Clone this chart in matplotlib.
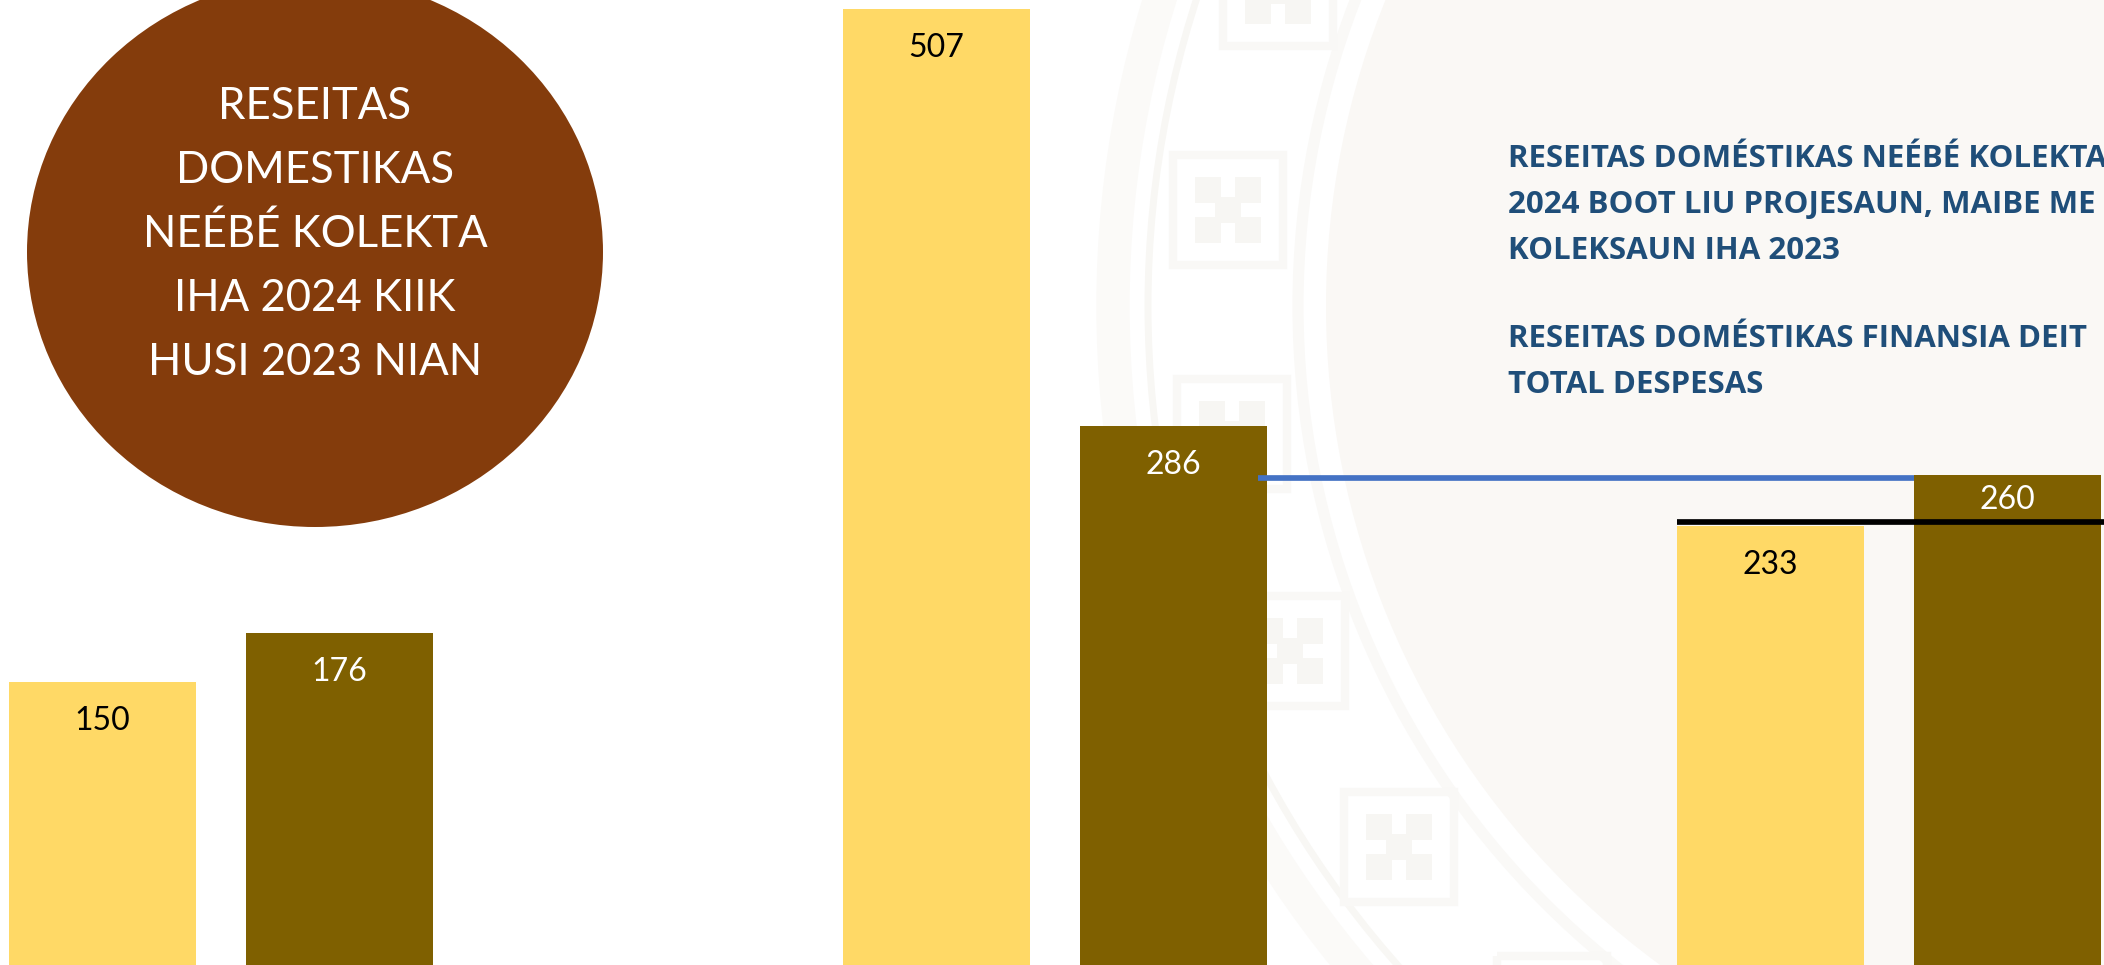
import numpy as np
import matplotlib.pyplot as plt
from matplotlib.patches import Ellipse, Circle, Rectangle

# bar values (three pairs of bars)
light_vals = [150, 507, 233]
dark_vals = [176, 286, 260]
dark_label_pad = [-28, -28, -18]

# reference lines drawn across the right pair
blue_level = 258.5
black_level = 235

circle_lines = ["RESEITAS", "DOMESTIKAS", "NEÉBÉ KOLEKTA", "IHA 2024 KIIK", "HUSI 2023 NIAN"]
note_lines = [
    "RESEITAS DOMÉSTIKAS NEÉBÉ KOLEKTA",
    "2024 BOOT LIU PROJESAUN, MAIBE ME",
    "KOLEKSAUN IHA 2023",
    "RESEITAS DOMÉSTIKAS FINANSIA DEIT",
    "TOTAL DESPESAS",
]
note_baselines = [167, 213, 259, 347, 393]

light_color = "#FFD966"
dark_color = "#7F6000"
W, H = 2104, 965

fig = plt.figure(figsize=(W / 100, H / 100), dpi=100)
fig.patch.set_facecolor("white")

# faint seal watermark in pixel coordinates
bg = fig.add_axes([0, 0, 1, 1], zorder=0)
bg.set_xlim(0, W)
bg.set_ylim(H, 0)
bg.axis("off")
cx, cy = 2143, 306
bg.add_patch(Circle((cx, cy), 1030, facecolor="none", edgecolor="#FBFAF8", lw=24))
bg.add_patch(Circle((cx, cy), 995, facecolor="none", edgecolor="#F8F7F4", lw=5))
bg.add_patch(Circle((cx, cy), 845, facecolor="none", edgecolor="#FAF9F7", lw=8))
bg.add_patch(Circle((cx, cy), 817, facecolor="#FAF8F5", edgecolor="none"))
for ang in np.deg2rad([160, 174, 188, 202, 216, 230, 244]):
    mx, my = cx + 920 * np.cos(ang), cy - 920 * np.sin(ang)
    for dx, dy in [(-20, -20), (20, 20), (-20, 20), (20, -20), (0, 0)]:
        bg.add_patch(Rectangle((mx + dx - 13, my + dy - 13), 26, 26,
                               facecolor="#F7F6F3", edgecolor="none"))
    bg.add_patch(Rectangle((mx - 55, my - 55), 110, 110, facecolor="none",
                           edgecolor="#F9F8F6", lw=6))

# bars
ax = fig.add_axes([0, 0, 1, 1], zorder=1)
ax.patch.set_alpha(0)
x = np.arange(len(light_vals))
off, width = 0.142, 0.224
b1 = ax.bar(x - off, light_vals, width, color=light_color)
b2 = ax.bar(x + off, dark_vals, width, color=dark_color)
ax.set_xlim(-0.265, 2.258)
ax.set_ylim(0, 512)
ax.axis("off")

for r, v in zip(b1, light_vals):
    ax.annotate(str(v), (r.get_x() + r.get_width() / 2, v), xytext=(0, -28),
                textcoords="offset points", ha="center", va="center",
                fontsize=23, color="black", family="Lato")
for r, v, pad in zip(b2, dark_vals, dark_label_pad):
    ax.annotate(str(v), (r.get_x() + r.get_width() / 2, v), xytext=(0, pad),
                textcoords="offset points", ha="center", va="center",
                fontsize=23, color="white", family="Lato")

ax.hlines(blue_level, b2[1].get_x() + b2[1].get_width() - 0.01, b2[2].get_x(),
          color="#4472C4", lw=4.1)
ax.hlines(black_level, b1[2].get_x(), 2.258, color="black", lw=4.1)

# brown ellipse with text
fig.add_artist(Ellipse((315 / W, 1 - 252 / H), 576 / W, 550 / H,
                       transform=fig.transFigure, facecolor="#843C0C",
                       edgecolor="none", zorder=2))
for i, line in enumerate(circle_lines):
    fig.text(315 / W, 1 - (119 + 64 * i) / H, line, ha="center", va="baseline",
             fontsize=31.5, color="white", family="Lato", zorder=3)

for line, yb in zip(note_lines, note_baselines):
    fig.text(1508 / W, 1 - yb / H, line, ha="left", va="baseline",
             fontsize=22.5, color="#1F4E79", family="Open Sans", weight="bold",
             zorder=3)

fig.savefig("out.png", dpi=100)
